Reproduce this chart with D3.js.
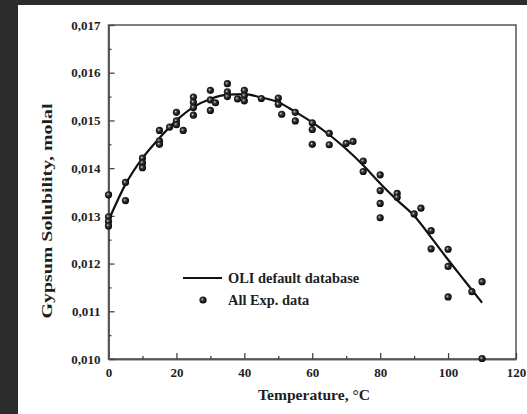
<!DOCTYPE html>
<html>
<head>
<meta charset="utf-8">
<script src="https://cdn.jsdelivr.net/npm/d3@7"></script>
<style>
  body { margin: 0; background: #2c2c2c; }
  svg { display: block; }
  text { font-family: "Liberation Serif", "Times New Roman", serif; font-weight: bold; fill: #1e1e1e; }
</style>
</head>
<body>
<svg id="canvas" width="527" height="414"></svg>
<script>
// Model curve (OLI default database)
let curveTemp = [0, 5, 10, 15, 20, 25, 30, 35, 40, 45, 50, 55, 60, 65, 70, 75, 80, 85, 90, 95, 100, 105, 110];
let curveSol = [0.01290, 0.01366, 0.01421, 0.01463, 0.01500, 0.01528, 0.01545, 0.01554, 0.01555, 0.01548,
    0.01538, 0.01518, 0.01496, 0.01470, 0.01440, 0.01406, 0.01368, 0.01333, 0.01300, 0.01255,
    0.01208, 0.01163, 0.01118];

// Experimental points
let expTemp = [0, 0, 0, 0, 5, 5, 10, 10, 10, 15, 15, 15, 18, 20, 20, 20, 22,
    25, 25, 25, 25, 30, 30, 30, 31.5, 35, 35, 35, 38, 40, 40, 40, 45, 50, 50, 51,
    55, 55, 60, 60, 60, 65, 65, 70, 72, 75, 75, 80, 80, 80, 80, 85, 85, 90, 92,
    95, 95, 100, 100, 100, 107, 110, 110];
let expSol = [0.01344, 0.01298, 0.01288, 0.01279, 0.01370, 0.01332, 0.01421, 0.01411, 0.01401,
    0.01479, 0.01457, 0.01450, 0.01486, 0.01517, 0.01499, 0.01491, 0.01479,
    0.01549, 0.01538, 0.01527, 0.01511, 0.01563, 0.01543, 0.01521, 0.01537,
    0.01577, 0.01560, 0.01550, 0.01545, 0.01563, 0.01552, 0.01541, 0.01546,
    0.01547, 0.01534, 0.01513, 0.01517, 0.01499, 0.01495, 0.01481, 0.01450,
    0.01473, 0.01449, 0.01452, 0.01456, 0.01415, 0.01393, 0.01386, 0.01353,
    0.01326, 0.01296, 0.01347, 0.01339, 0.01304, 0.01316, 0.01269, 0.01231,
    0.01230, 0.01194, 0.01130, 0.01141, 0.01162, 0.01001];

// Axis ticks
let xTicks = [0, 20, 40, 60, 80, 100, 120];
let xMinor = [10, 30, 50, 70, 90, 110];
let yTicks = [0.010, 0.011, 0.012, 0.013, 0.014, 0.015, 0.016, 0.017];
let yMinor = [0.0105, 0.0115, 0.0125, 0.0135, 0.0145, 0.0155, 0.0165];

let serif = '"Liberation Serif", "Times New Roman", serif';
let svg = d3.select('#canvas');

// white panel
svg.append('rect').attr('x', 18).attr('y', 5).attr('width', 509).attr('height', 409).attr('fill', '#fff');

let x = d3.scaleLinear().domain([0, 120]).range([108.5, 516]);
let y = d3.scaleLinear().domain([0.010, 0.017]).range([359, 25]);

// sphere-like marker
let grad = svg.append('defs').append('radialGradient')
    .attr('id', 'ball').attr('cx', '45%').attr('cy', '45%').attr('r', '55%')
    .attr('fx', '38%').attr('fy', '40%');
grad.append('stop').attr('offset', '0%').attr('stop-color', '#d8d8d8');
grad.append('stop').attr('offset', '35%').attr('stop-color', '#3a3a3a');
grad.append('stop').attr('offset', '100%').attr('stop-color', '#000');

// frame
svg.append('rect')
    .attr('x', x(0)).attr('y', y(0.017))
    .attr('width', x(120) - x(0)).attr('height', y(0.010) - y(0.017))
    .attr('fill', 'none').attr('stroke', '#555').attr('stroke-width', 1.5);

let fmt = (d) => d3.format('.3f')(d).replace('.', ',');

// bottom axis
let gx = svg.append('g').attr('transform', `translate(0,${y(0.010)})`)
    .call(d3.axisBottom(x).tickValues(xTicks).tickSizeInner(-6).tickSizeOuter(0).tickPadding(9));
gx.append('g').call(d3.axisBottom(x).tickValues(xMinor).tickSizeInner(-3).tickSizeOuter(0).tickFormat(''));

// left axis
let gy = svg.append('g').attr('transform', `translate(${x(0)},0)`)
    .call(d3.axisLeft(y).tickValues(yTicks).tickSizeInner(-6).tickSizeOuter(0).tickPadding(8).tickFormat(fmt));
gy.append('g').call(d3.axisLeft(y).tickValues(yMinor).tickSizeInner(-3).tickSizeOuter(0).tickFormat(''));

[gx, gy].forEach((g) => g.attr('font-family', serif).attr('font-size', 13).attr('font-weight', 'bold'));
svg.selectAll('.domain').attr('stroke', '#555').attr('stroke-width', 1.5);
svg.selectAll('.tick line').attr('stroke', '#444').attr('stroke-width', 1.3);
svg.selectAll('.tick text').attr('fill', '#1e1e1e');

// axis titles
svg.append('text').attr('x', 314).attr('y', 400).attr('text-anchor', 'middle')
    .attr('font-size', 15.6).text('Temperature, °C');
svg.append('text').attr('transform', 'translate(52,211) rotate(-90)').attr('text-anchor', 'middle')
    .attr('font-size', 15.5).attr('textLength', 215).attr('lengthAdjust', 'spacingAndGlyphs')
    .text('Gypsum Solubility, molal');

// model line
let line = d3.line().x((d, i) => x(curveTemp[i])).y((d) => y(d)).curve(d3.curveMonotoneX);
svg.append('path').datum(curveSol).attr('d', line)
    .attr('fill', 'none').attr('stroke', '#111').attr('stroke-width', 2.2);

// experimental points
svg.append('g').selectAll('circle').data(expSol).enter().append('circle')
    .attr('cx', (d, i) => x(expTemp[i])).attr('cy', (d) => y(d))
    .attr('r', 3.6).attr('fill', 'url(#ball)');

// legend
let lg = svg.append('g');
lg.append('line').attr('x1', 183).attr('x2', 222).attr('y1', 278).attr('y2', 278)
    .attr('stroke', '#111').attr('stroke-width', 2.2);
lg.append('circle').attr('cx', 203).attr('cy', 300).attr('r', 3.6).attr('fill', 'url(#ball)');
lg.append('text').attr('x', 228).attr('y', 283).attr('font-size', 14.4).text('OLI default database');
lg.append('text').attr('x', 228).attr('y', 305).attr('font-size', 14.4).text('All Exp. data');
</script>
</body>
</html>
